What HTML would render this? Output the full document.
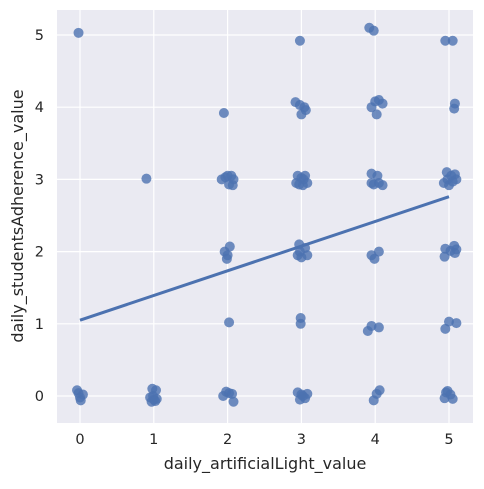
<!DOCTYPE html>
<html><head><meta charset="utf-8"><style>
body{margin:0;background:#fff;}
svg text{font-family:"DejaVu Sans","Liberation Sans",sans-serif;fill:#262626;}
</style></head><body>
<svg id="chart" width="484" height="484">
<rect x="57" y="10" width="416" height="413" fill="#EAEAF2"/>
<g id="grid"></g><g id="pts"></g><g id="line"></g><g id="ticks"></g>
<text x="265" y="469" text-anchor="middle" font-size="16">daily_artificialLight_value</text>
<text transform="translate(23,216) rotate(-90)" text-anchor="middle" font-size="16">daily_studentsAdherence_value</text>
</svg>
<script>
const xTicks=[0,1,2,3,4,5];
const yTicks=[0,1,2,3,4,5];
const xs=[-0.02,-0.04,-0.02,0.0,0.01,0.04,
0.9,0.95,0.98,1.03,1.0,0.97,1.04,0.99,1.02,
1.95,1.92,1.97,2.0,2.05,2.08,2.02,2.07,1.96,2.0,2.03,1.99,2.02,1.94,1.98,2.02,2.06,2.08,
2.92,2.98,3.04,3.0,3.06,2.98,2.95,3.0,3.05,3.08,2.97,3.02,2.93,3.03,2.97,3.05,2.95,3.0,3.08,2.98,2.99,2.99,2.95,3.0,3.05,3.08,2.98,3.02,
3.92,3.98,3.95,4.0,4.05,4.1,4.02,3.95,4.03,4.05,3.98,4.1,3.95,4.05,3.95,3.99,3.9,3.95,4.05,3.98,4.02,4.06,
4.95,5.05,5.08,5.07,4.97,5.03,5.08,4.93,5.0,5.1,5.05,4.98,4.95,5.02,5.07,5.1,4.94,5.08,5.0,4.95,5.1,4.96,5.02,5.05,4.94,4.98];
const ys=[5.03,0.08,0.04,-0.02,-0.06,0.02,
3.01,-0.02,0.1,0.08,-0.05,-0.08,-0.04,0.0,-0.07,
3.92,3.0,3.03,3.05,3.05,3.0,2.93,2.92,2.0,1.95,2.07,1.9,1.02,0.0,0.06,0.04,0.03,-0.08,
4.07,4.03,4.0,3.9,3.96,4.92,3.05,3.02,3.05,2.95,2.93,2.92,2.95,3.0,2.1,2.05,1.95,1.92,1.95,2.0,1.08,1.0,0.05,0.02,-0.03,0.03,-0.05,0.0,
5.1,5.06,4.0,4.08,4.1,4.05,3.9,3.08,3.05,2.95,2.93,2.92,2.95,2.0,1.95,1.9,0.9,0.97,0.95,-0.06,0.03,0.08,
4.92,4.92,4.05,3.98,3.1,3.05,3.07,2.95,2.92,3.0,2.97,3.0,2.04,2.01,2.08,2.03,1.93,1.98,1.03,0.93,1.01,0.05,0.02,-0.04,-0.03,0.07];
const fitX=[0,5];
const fitY=[1.05,2.76];
const X=v=>80+73.8*v, Y=v=>396-72.2*v;
const NS="http://www.w3.org/2000/svg";
function mk(t,a,p){const e=document.createElementNS(NS,t);for(const k in a)e.setAttribute(k,a[k]);p.appendChild(e);return e;}
const grid=document.getElementById('grid'),tk=document.getElementById('ticks');
xTicks.forEach(v=>{
 const l=mk('line',{x1:X(v),x2:X(v),y1:10,y2:423,stroke:'#fff','stroke-width':1.2},grid);
 
 
 const t=mk('text',{x:X(v),y:444,'text-anchor':'middle','font-size':14.5},tk);t.textContent=v;
 
 
});
yTicks.forEach(v=>{
 const l=mk('line',{x1:57,x2:473,y1:Y(v),y2:Y(v),stroke:'#fff','stroke-width':1.2},grid);
 
 
 const t=mk('text',{x:44,y:Y(v)+5,'text-anchor':'end','font-size':14.5},tk);t.textContent=v;
 
 
});
const pts=document.getElementById('pts');
xs.forEach((v,i)=>{
 const c=mk('circle',{cx:X(v),cy:Y(ys[i]),r:5,fill:'#4C72B0','fill-opacity':0.8},pts);
 
 
});
const ln=mk('line',{x1:X(fitX[0]),y1:Y(fitY[0]),x2:X(fitX[1]),y2:Y(fitY[1]),stroke:'#4C72B0','stroke-width':3},document.getElementById('line'));


</script>
</body></html>
